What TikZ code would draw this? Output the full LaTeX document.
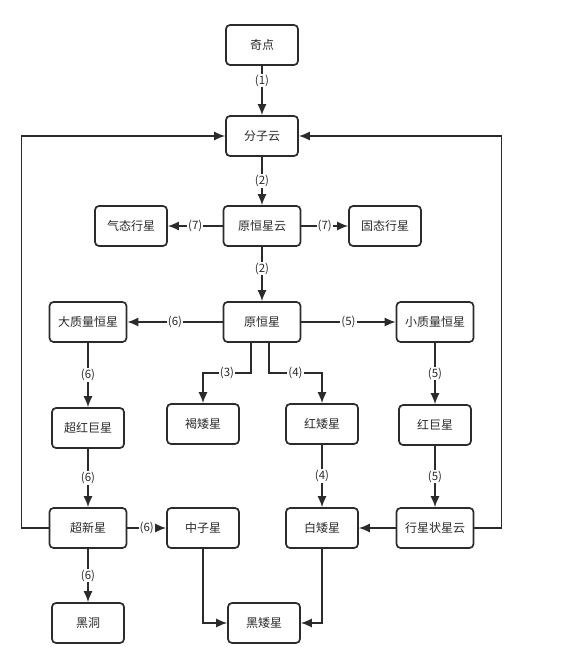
\documentclass[tikz,border=0pt]{standalone}
\usepackage{fontspec}
\setmainfont{Noto Sans CJK SC}
\usetikzlibrary{arrows.meta}
\definecolor{ink}{HTML}{2B2B2B}
\tikzset{
  box/.style={draw=ink, line width=1.7pt, rounded corners=4pt, fill=white,
    minimum width=72pt, minimum height=40pt, inner sep=2pt, text=ink,
    font=\fontsize{12}{13}\selectfont},
  wide/.style={minimum width=77pt},
  lbl/.style={fill=white, inner sep=1pt, text=ink, font=\fontsize{11.5}{12}\selectfont},
  link/.style={draw=ink, line width=1.4pt, -{Latex[length=11pt,width=9pt]}}
}
\begin{document}
\begin{tikzpicture}[x=1pt, y=-1pt]
    \useasboundingbox (0,0) rectangle (583,668);
    % top column
    \node[box] (qidian) at (262,45) {奇点};
    \node[box] (fenzi) at (262,136) {分子云};
    \node[box, wide] (yuanxingyun) at (262,226) {原恒星云};
    \node[box] (qitai) at (131,226) {气态行星};
    \node[box] (gutai) at (385,226) {固态行星};
    % protostar row
    \node[box, wide] (yuanhengxing) at (262,322) {原恒星};
    \node[box, wide] (dazhiliang) at (88,322) {大质量恒星};
    \node[box, wide] (xiaozhiliang) at (435,322) {小质量恒星};
    \node[box] (chaohongju) at (88,428) {超红巨星};
    \node[box] (hezai) at (203,424) {褐矮星};
    \node[box] (hongai) at (322,424) {红矮星};
    \node[box] (hongju) at (435,425) {红巨星};
    % end states
    \node[box, wide] (chaoxin) at (88,528) {超新星};
    \node[box] (zhongzi) at (203,528) {中子星};
    \node[box] (baiai) at (322,528) {白矮星};
    \node[box, wide] (xingyun) at (435,528) {行星状星云};
    \node[box] (heidong) at (88,623) {黑洞};
    \node[box] (heiai) at (264,623) {黑矮星};
    \coordinate (b3) at (203,373);
    \coordinate (b4) at (322,373);

    \draw[link] (qidian) -- node[lbl, pos=.3] {(1)} (fenzi);
    \draw[link] (fenzi) -- node[lbl] {(2)} (yuanxingyun);
    \draw[link] (yuanxingyun) -- node[lbl] {(7)} (qitai);
    \draw[link] (yuanxingyun) -- node[lbl] {(7)} (gutai);
    \draw[link] (yuanxingyun) -- node[lbl, pos=.4] {(2)} (yuanhengxing);
    \draw[link] (yuanhengxing) -- node[lbl] {(6)} (dazhiliang);
    \draw[link] (yuanhengxing) -- node[lbl] {(5)} (xiaozhiliang);
    \draw[link] ([xshift=-11pt]yuanhengxing.south) |- node[lbl, pos=.75] {(3)} (b3) -- (hezai);
    \draw[link] ([xshift=7pt]yuanhengxing.south) |- node[lbl, pos=.75] {(4)} (b4) -- (hongai);
    \foreach \a/\b/\n in {dazhiliang/chaohongju/6, chaohongju/chaoxin/6, xiaozhiliang/hongju/5, hongju/xingyun/5, hongai/baiai/4}
      \draw[link] (\a) -- node[lbl] {(\n)} (\b);
    \draw[link] (chaoxin) -- node[lbl] {(6)} (zhongzi);
    \draw[link] (chaoxin) -- node[lbl] {(6)} (heidong);
    \draw[link] (xingyun) -- (baiai);
    \draw[link] (zhongzi) |- (heiai);
    \draw[link] (baiai) |- (heiai);
    % feedback loops
    \draw[link] (chaoxin.west) -- ++(-27,0) |- (fenzi.west);
    \draw[link] (xingyun.east) -- ++(27,0) |- (fenzi.east);
\end{tikzpicture}
\end{document}
